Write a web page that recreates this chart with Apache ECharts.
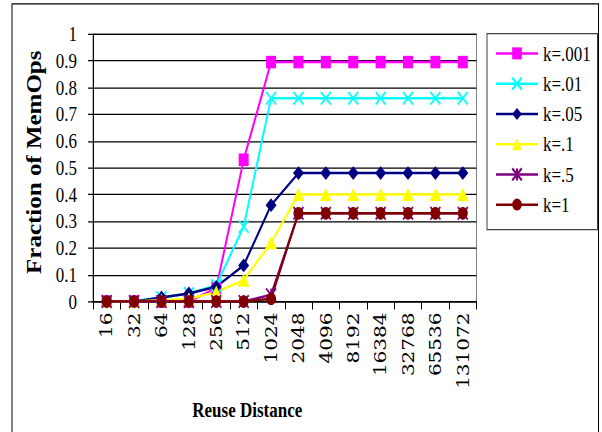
<!DOCTYPE html>
<html>
<head>
<meta charset="utf-8">
<script src="https://cdn.jsdelivr.net/npm/echarts@6/dist/echarts.min.js"></script>
<style>
html,body{margin:0;padding:0;background:#fff;}
#wrap{width:602px;height:432px;overflow:hidden;position:relative;background:#fff;}
#main{position:absolute;left:0;top:0;width:602px;height:345.6px;transform:scaleY(1.25);transform-origin:0 0;}
</style>
</head>
<body>
<div id="wrap"><div id="main"></div></div>
<script>
var categories = ['16','32','64','128','256','512','1024','2048','4096','8192','16384','32768','65536','131072'];
var seriesNames = ['k=.001','k=.01','k=.05','k=.1','k=.5','k=1'];
var k001 = [0,0,0,0,0.05,0.53,0.895,0.895,0.895,0.895,0.895,0.895,0.895,0.895];
var k01  = [0,0,0.015,0.03,0.06,0.28,0.76,0.76,0.76,0.76,0.76,0.76,0.76,0.76];
var k05  = [0,0,0.015,0.03,0.055,0.135,0.36,0.48,0.48,0.48,0.48,0.48,0.48,0.48];
var k1_  = [0,0,0.005,0.01,0.035,0.08,0.22,0.40,0.40,0.40,0.40,0.40,0.40,0.40];
var k5   = [0,0,0,0,0,0,0.025,0.33,0.33,0.33,0.33,0.33,0.33,0.33];
var k1   = [0,0,0,0,0,0,0.01,0.33,0.33,0.33,0.33,0.33,0.33,0.33];
var yTickLabels = ['0','0.1','0.2','0.3','0.4','0.5','0.6','0.7','0.8','0.9','1'];

var crossPath = 'path://M0,0L10,10M10,0L0,10';
var starPath = 'path://M0,0L10,10M10,0L0,10M5,0L5,10';

function mk(name, data, color, symbol, size, stroke) {
  return {
    name: name, type: 'line', data: data,
    symbol: symbol, symbolSize: size, showAllSymbol: true,
    lineStyle: {color: color, width: 2},
    itemStyle: stroke ? {color: color, borderColor: color, borderWidth: 1.6} : {color: color, borderWidth: 0},
    emphasis: {disabled: true},
    z: 2
  };
}

var chart = echarts.init(document.getElementById('main'), null, {renderer: 'svg'});
chart.setOption({
  animation: false,
  backgroundColor: '#fff',
  graphic: {
    elements: [
      {type: 'rect', left: 11.5, top: 2.6, z: 100, shape: {x: 0, y: 0, width: 586.5, height: 400}, style: {fill: 'transparent', stroke: '#000', lineWidth: 1}},
      {type: 'rect', left: 486.5, top: 26.4, z: 100, shape: {x: 0, y: 0, width: 110.5, height: 156.8}, style: {fill: 'transparent', stroke: '#404040', lineWidth: 1}}
    ]
  },
  grid: {left: 93, right: 125.5, top: 27.2, bottom: 104.8, show: true, borderColor: '#808080', borderWidth: 1, backgroundColor: 'transparent'},
  legend: {
    orient: 'vertical', left: 495, top: 34.2, padding: 0,
    itemWidth: 42, itemHeight: 12, itemGap: 7.2,
    data: seriesNames,
    textStyle: {fontFamily: 'Liberation Serif', fontSize: 17, lineHeight: 17, color: '#000'}
  },
  xAxis: {
    type: 'category', data: categories, boundaryGap: true,
    name: 'Reuse Distance', nameLocation: 'middle', nameGap: 69,
    nameTextStyle: {fontFamily: 'Liberation Serif', fontSize: 17, fontWeight: 'bold', color: '#000', padding: [0, 75, 0, 0]},
    axisLine: {lineStyle: {color: '#000', width: 1}},
    axisTick: {show: true, alignWithLabel: false, length: 6.4, lineStyle: {color: '#000'}},
    axisLabel: {rotate: 90, margin: 8.8, interval: 0, fontFamily: 'DejaVu Serif', fontSize: 16, color: '#000'},
    splitLine: {show: false}
  },
  yAxis: {
    type: 'value', min: 0, max: 1, interval: 0.1,
    name: 'Fraction of MemOps', nameLocation: 'middle', nameGap: 48.5,
    nameTextStyle: {fontFamily: 'Liberation Serif', fontSize: 20, fontWeight: 'bold', color: '#000', padding: [0, 0, 0, 8.8]},
    axisLine: {show: true, lineStyle: {color: '#000', width: 1}},
    axisTick: {show: true, length: 5, lineStyle: {color: '#000'}},
    axisLabel: {margin: 16, fontFamily: 'Liberation Serif', fontSize: 17, color: '#000',
      formatter: function (v) { return yTickLabels[Math.round(v * 10)]; }},
    splitLine: {show: true, lineStyle: {color: '#000', width: 1}}
  },
  series: [
    mk(seriesNames[0], k001, '#FF00FF', 'rect', [10, 10], false),
    mk(seriesNames[1], k01, '#00FFFF', crossPath, [10, 10], true),
    mk(seriesNames[2], k05, '#000080', 'diamond', [11, 11], false),
    mk(seriesNames[3], k1_, '#FFFF00', 'triangle', [12, 10.5], false),
    mk(seriesNames[4], k5, '#800080', starPath, [10, 10], true),
    mk(seriesNames[5], k1, '#800000', 'circle', [10, 10], false)
  ]
});
</script>
</body>
</html>
